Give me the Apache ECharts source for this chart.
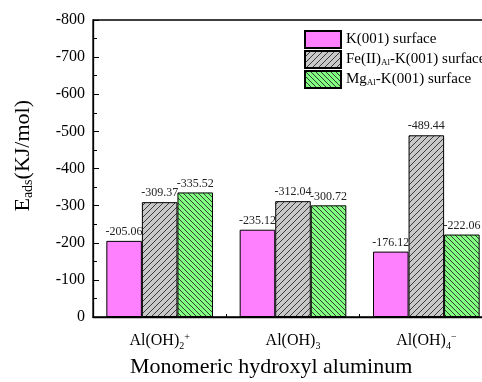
<!DOCTYPE html>
<html><head><meta charset="utf-8">
<script src="https://cdn.jsdelivr.net/npm/echarts@6/dist/echarts.min.js"></script>
<style>html,body{margin:0;padding:0;overflow:hidden;background:#fff;}#c{width:500px;height:382px;}</style>
</head><body><div id="c"></div>
<script>
const categories = ['Al(OH)2+', 'Al(OH)3', 'Al(OH)4-'];
const catLabels = ['Al(OH){sub|2}{sup|+}', 'Al(OH){sub|3}', 'Al(OH){sub|4}{sup|−}'];
const seriesNames = ['K(001) surface', 'Fe(II)Al-K(001) surface', 'MgAl-K(001) surface'];
const legendLabels = ['K(001) surface', 'Fe(II){sub|Al}-K(001) surface', 'Mg{sub|Al}-K(001) surface'];
const kValues = [-205.06, -235.12, -176.12];
const feValues = [-309.37, -312.04, -489.44];
const mgValues = [-335.52, -300.72, -222.06];
const yTicks = [-800, -700, -600, -500, -400, -300, -200, -100, 0];

function hatch(bg, dir, s) {
  const c = document.createElement('canvas');
  c.width = s; c.height = s;
  const g = c.getContext('2d');
  g.fillStyle = bg; g.fillRect(0, 0, s, s);
  g.strokeStyle = '#2a2a2a'; g.lineWidth = 0.9;
  g.beginPath();
  if (dir === '/') {
    g.moveTo(-1, s + 1); g.lineTo(s + 1, -1);
    g.moveTo(-1, 1); g.lineTo(1, -1);
    g.moveTo(s - 1, s + 1); g.lineTo(s + 1, s - 1);
  } else {
    g.moveTo(-1, -1); g.lineTo(s + 1, s + 1);
    g.moveTo(s - 1, -1); g.lineTo(s + 1, 1);
    g.moveTo(-1, s - 1); g.lineTo(1, s + 1);
  }
  g.stroke();
  return { image: c, repeat: 'repeat' };
}

const font = '"Liberation Serif", "Times New Roman", serif';
const chart = echarts.init(document.getElementById('c'));
const lblStyle = { show: true, position: 'top', distance: 3, fontFamily: font, fontSize: 12, color: '#222',
  formatter: p => p.value.toFixed(2) };
const fills = [ '#ff80ff', hatch('#c8c8c8', '/', 6), hatch('#80ff80', '\\', 5) ];
const vals = [kValues, feValues, mgValues];

chart.setOption({
  animation: false,
  grid: { left: 93, top: 20, width: 400, bottom: 65, show: true, borderColor: '#000', borderWidth: 1.3, backgroundColor: 'transparent' },
  legend: {
    orient: 'vertical', left: 299, top: 25, itemWidth: 36, itemHeight: 17, itemGap: 1,
    icon: 'rect',
    data: seriesNames,
    formatter: name => legendLabels[seriesNames.indexOf(name)],
    textStyle: { fontFamily: font, fontSize: 15, color: '#000',
      rich: { sub: { fontFamily: font, fontSize: 9, padding: [6, 0, 0, 0] } } }
  },
  xAxis: {
    type: 'category', data: categories,
    axisLine: { lineStyle: { color: '#000', width: 1.3 } },
    axisTick: { show: true, inside: true, length: 3, lineStyle: { color: '#000' } },
    axisLabel: { interval: 0, margin: 14, fontFamily: font, fontSize: 16, color: '#000',
      formatter: (v, i) => catLabels[i],
      rich: { sub: { fontFamily: font, fontSize: 10, padding: [10, 0, 0, 0] },
              sup: { fontFamily: font, fontSize: 10, padding: [0, 0, 8, 0] } } }
  },
  yAxis: {
    type: 'value', min: -800, max: 0, interval: 100, inverse: true,
    axisLine: { show: true, lineStyle: { color: '#000', width: 1.3 } },
    axisTick: { show: true, inside: true, length: 6, lineStyle: { color: '#000' } },
    minorTick: { show: true, splitNumber: 2, length: 4, lineStyle: { color: '#000' } },
    splitLine: { show: false },
    axisLabel: { margin: 8, fontFamily: font, fontSize: 16, color: '#000',
      formatter: v => yTicks.includes(v) ? String(v) : '' }
  },
  graphic: [
    { type: 'text', left: 12, top: 100, rotation: Math.PI / 2,
      style: { text: 'E{sub|ads}(KJ/mol)', font: '22px ' + font, fill: '#000',
        rich: { sub: { fontFamily: font, fontSize: 14, padding: [10, 0, 0, 0] } } } },
    { type: 'text', left: 130, top: 356,
      style: { text: 'Monomeric hydroxyl aluminum', font: '22px ' + font, fill: '#000' } }
  ],
  series: seriesNames.map((n, i) => ({
    name: n, type: 'bar', data: vals[i], barGap: '0%', barCategoryGap: '20%',
    itemStyle: { color: fills[i], borderColor: '#000', borderWidth: 1 },
    label: lblStyle
  }))
});
</script></body></html>
